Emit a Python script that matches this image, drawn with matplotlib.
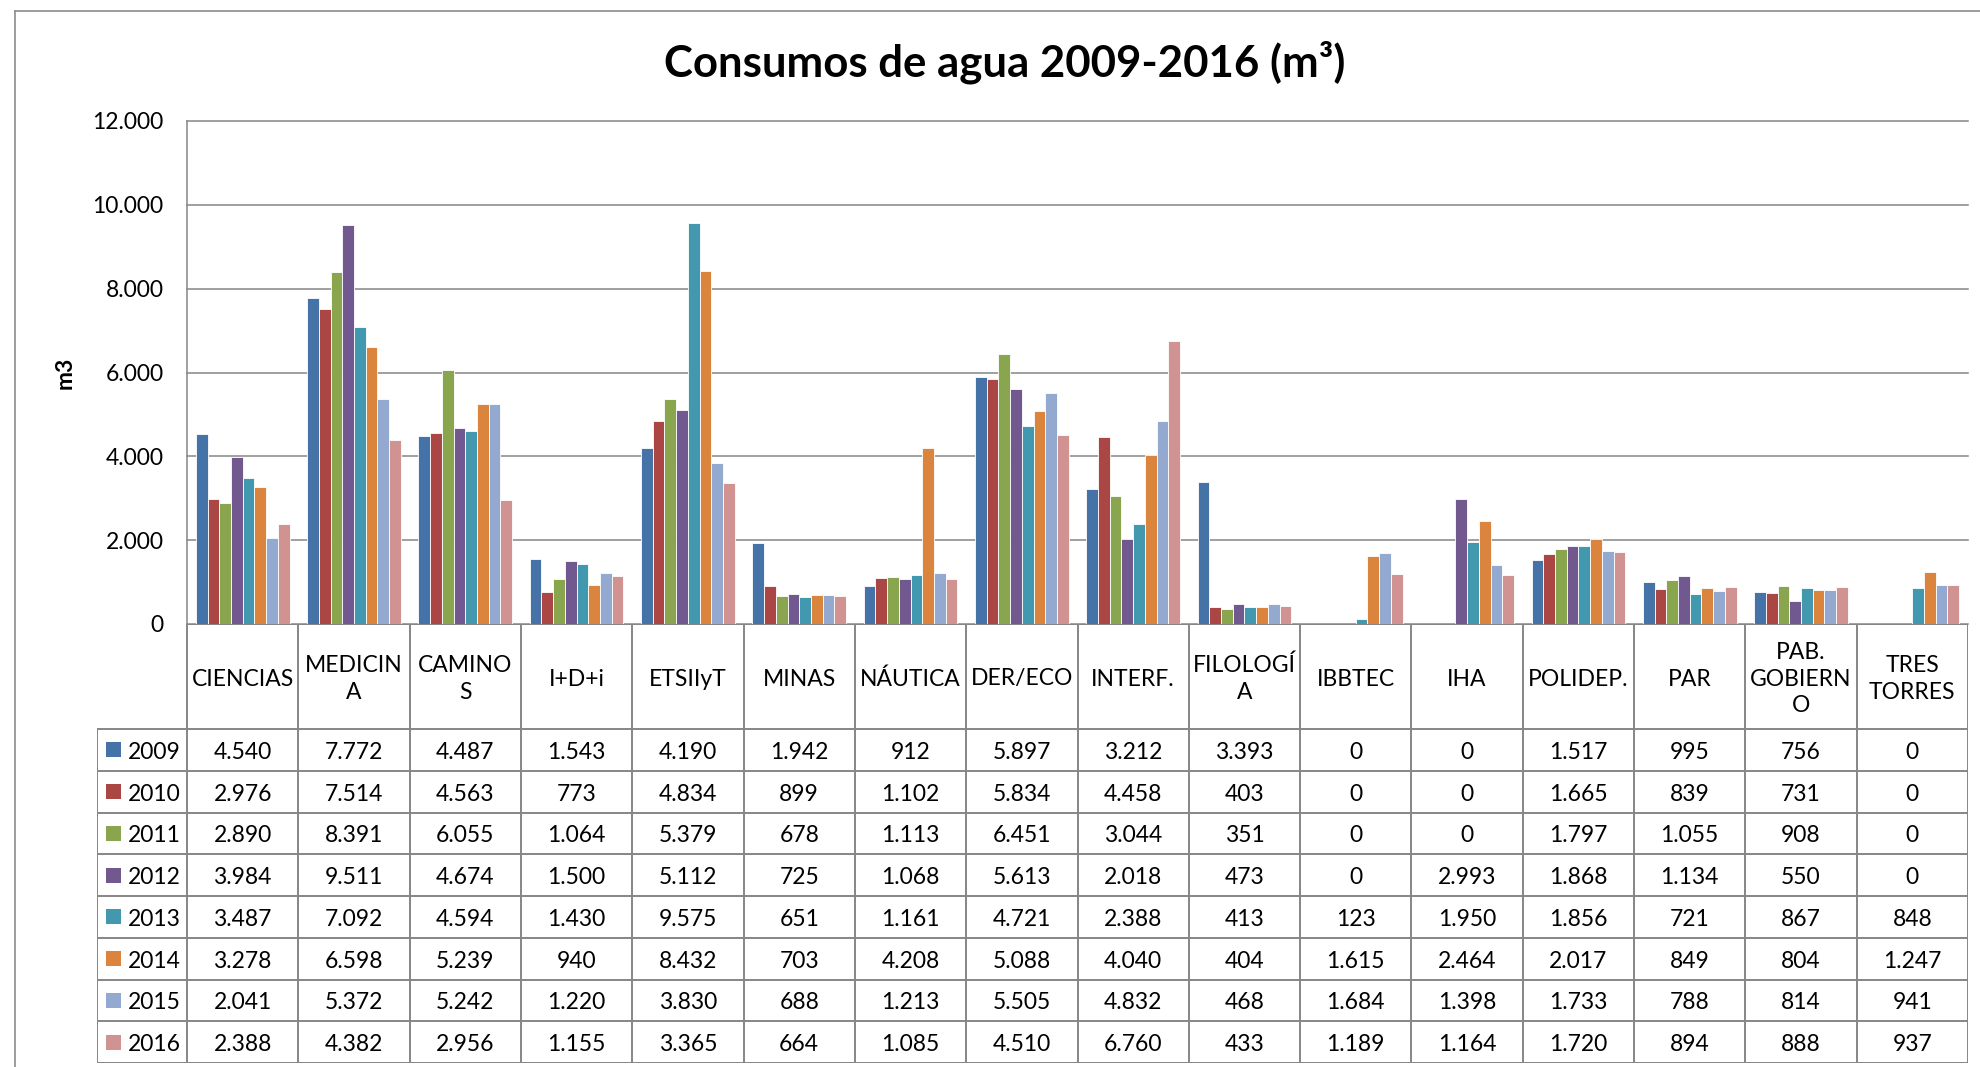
import matplotlib
matplotlib.use('Agg')
import matplotlib.pyplot as plt
from matplotlib.ticker import FuncFormatter
from matplotlib.patches import Rectangle
from matplotlib.lines import Line2D
import numpy as np

plt.rcParams['font.family'] = ['Lato', 'DejaVu Sans']

# Data
years = ['2009', '2010', '2011', '2012', '2013', '2014', '2015', '2016']
categories = ['CIENCIAS', 'MEDICINA', 'CAMINOS', 'I+D+i', 'ETSIIyT', 'MINAS', 'NÁUTICA',
              'DER/ECO', 'INTERF.', 'FILOLOGÍA', 'IBBTEC', 'IHA', 'POLIDEP.', 'PAR',
              'PAB. GOBIERNO', 'TRES TORRES']
# header text as wrapped in the data table
header_labels = ['CIENCIAS', 'MEDICIN\nA', 'CAMINO\nS', 'I+D+i', 'ETSIIyT', 'MINAS', 'NÁUTICA',
                 'DER/ECO', 'INTERF.', 'FILOLOGÍ\nA', 'IBBTEC', 'IHA', 'POLIDEP.', 'PAR',
                 'PAB.\nGOBIERN\nO', 'TRES\nTORRES']

c2009 = [4540, 7772, 4487, 1543, 4190, 1942, 912, 5897, 3212, 3393, 0, 0, 1517, 995, 756, 0]
c2010 = [2976, 7514, 4563, 773, 4834, 899, 1102, 5834, 4458, 403, 0, 0, 1665, 839, 731, 0]
c2011 = [2890, 8391, 6055, 1064, 5379, 678, 1113, 6451, 3044, 351, 0, 0, 1797, 1055, 908, 0]
c2012 = [3984, 9511, 4674, 1500, 5112, 725, 1068, 5613, 2018, 473, 0, 2993, 1868, 1134, 550, 0]
c2013 = [3487, 7092, 4594, 1430, 9575, 651, 1161, 4721, 2388, 413, 123, 1950, 1856, 721, 867, 848]
c2014 = [3278, 6598, 5239, 940, 8432, 703, 4208, 5088, 4040, 404, 1615, 2464, 2017, 849, 804, 1247]
c2015 = [2041, 5372, 5242, 1220, 3830, 688, 1213, 5505, 4832, 468, 1684, 1398, 1733, 788, 814, 941]
c2016 = [2388, 4382, 2956, 1155, 3365, 664, 1085, 4510, 6760, 433, 1189, 1164, 1720, 894, 888, 937]
values = [c2009, c2010, c2011, c2012, c2013, c2014, c2015, c2016]

colors = ['#4572A7', '#AA4643', '#89A54E', '#71588F', '#4198AF', '#DB843D', '#93A9CF', '#D19392']

W, H = 1980, 1067
GRID = '#868686'
FS = 16.5


def px(x0, y0, x1, y1):
    """pixel box (top-left origin) -> figure rect"""
    return [x0 / W, 1 - y1 / H, (x1 - x0) / W, (y1 - y0) / H]


def fmt(v):
    return f"{int(v):,}".replace(',', '.')


fig = plt.figure(figsize=(W / 100, H / 100), dpi=100)

# outer chart border
fig.add_artist(Line2D([15 / W, 15 / W], [0, 1 - 11 / H], color='#8c8c8c', lw=1.2))
fig.add_artist(Line2D([15 / W, 1], [1 - 11 / H, 1 - 11 / H], color='#8c8c8c', lw=1.2))

fig.text(1005 / W, 1 - 62 / H, 'Consumos de agua 2009-2016 (m³)', ha='center', va='center',
         fontsize=31.5, fontweight='bold')
fig.text(65 / W, 1 - 373 / H, 'm3', rotation=90, ha='center', va='center',
         fontsize=FS, fontweight='bold')

# bars
ax = fig.add_axes(px(187, 121, 1968, 624))
n = len(categories)
x = np.arange(n)
bw = 1 / 9.5
for i, (yr, vals, col) in enumerate(zip(years, values, colors)):
    ax.bar(x + (i - 3.5) * bw, vals, bw, color=col, edgecolor='white', linewidth=0.6,
           label=yr, zorder=3)
ax.set_xlim(-0.5, n - 0.5)
ax.set_ylim(0, 12000)
ax.set_yticks(range(0, 12001, 2000))
ax.yaxis.set_major_formatter(FuncFormatter(lambda v, p: fmt(v)))
ax.set_xticks([])
ax.grid(axis='y', color=GRID, lw=1.1, zorder=0)
for gl in ax.get_ygridlines():
    gl.set_clip_on(False)
ax.tick_params(axis='y', length=0, pad=17, labelsize=FS)
for s in ['top', 'right', 'bottom']:
    ax.spines[s].set_visible(False)
ax.spines['left'].set_color(GRID)
ax.spines['left'].set_linewidth(1.1)

# data table
tab = fig.add_axes(px(97, 624, 1968, 1063))
cw = (1968 - 187) / n
xl = -0.5 - (187 - 97) / cw
tab.set_xlim(xl, n - 0.5)
tab.set_ylim(439, 0)
tab.axis('off')
hh = 105
rh = (439 - hh) / len(years)
dy = 2.5  # small downward nudge of text
lk = dict(color=GRID, lw=1.4, solid_capstyle='projecting')

tab.plot([-0.5, n - 0.5], [0, 0], **lk)
for k in range(len(years) + 1):
    tab.plot([xl, n - 0.5], [hh + k * rh] * 2, **lk)
for j in range(n + 1):
    tab.plot([-0.5 + j] * 2, [0, 439], **lk)
tab.plot([xl, xl], [hh, 439], **lk)

for j, lab in enumerate(header_labels):
    tab.text(j, hh / 2 + dy, lab, ha='center', va='center', fontsize=FS, linespacing=1.35)

for k, (yr, vals, col) in enumerate(zip(years, values, colors)):
    yc = hh + (k + 0.5) * rh
    tab.add_patch(Rectangle((xl + 9 / cw, yc - 7.5), 15 / cw, 15, color=col, lw=0))
    tab.text(xl + 31 / cw, yc + dy, yr, ha='left', va='center', fontsize=FS)
    for j, v in enumerate(vals):
        tab.text(j, yc + dy, fmt(v), ha='center', va='center', fontsize=FS)

fig.savefig('out.png', dpi=100)
